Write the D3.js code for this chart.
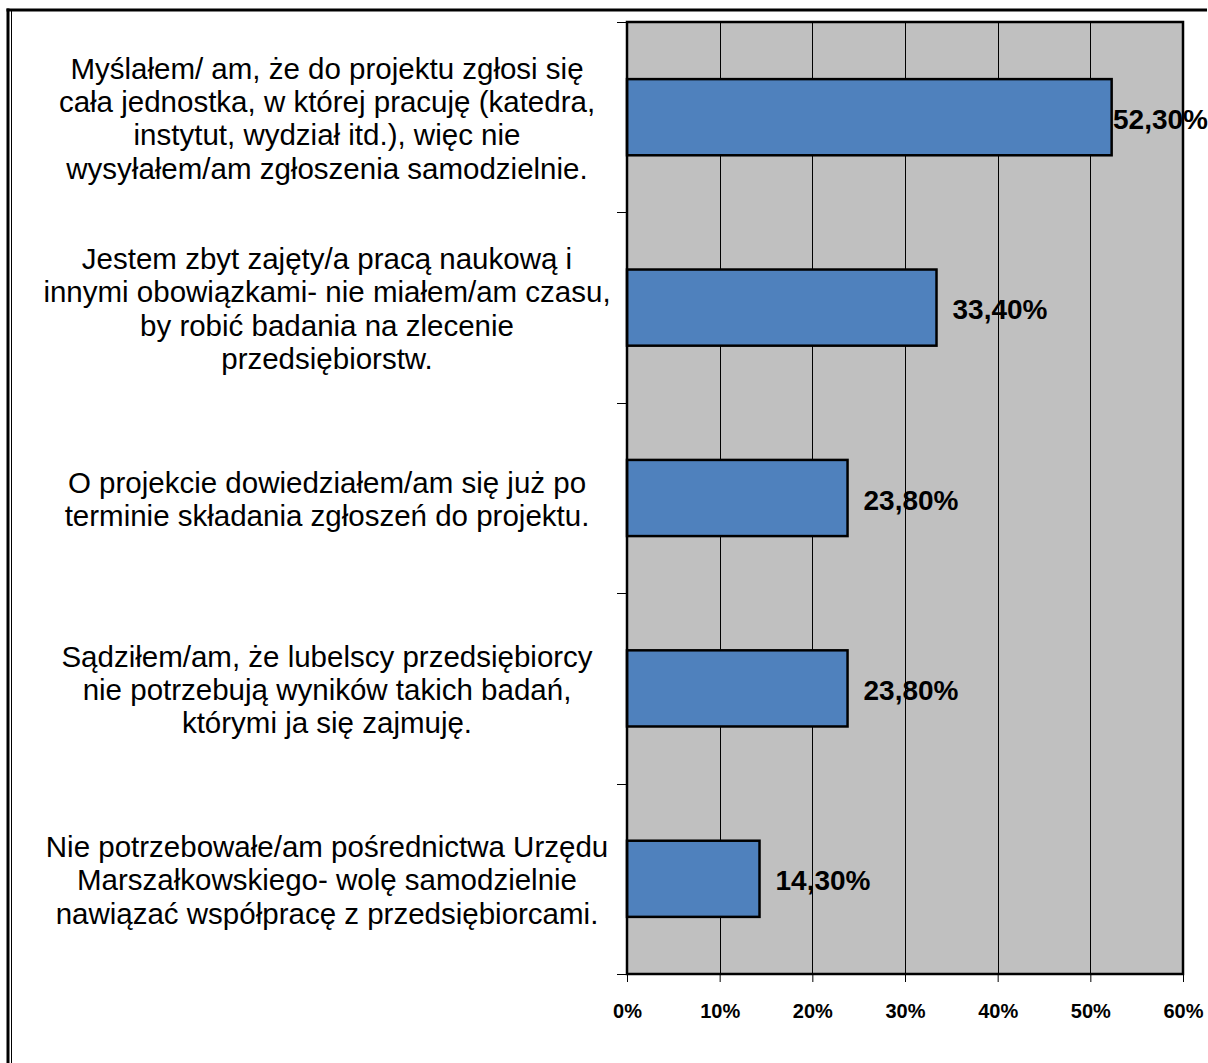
<!DOCTYPE html>
<html><head><meta charset="utf-8">
<script src="https://cdn.jsdelivr.net/npm/d3@7"></script>
<style>html,body{margin:0;padding:0;background:#fff;}svg{display:block;}</style>
</head><body>
<script>
const categories = [
  ["Myślałem/ am, że do projektu zgłosi się","cała jednostka, w której pracuję (katedra,","instytut, wydział itd.), więc nie","wysyłałem/am zgłoszenia samodzielnie."],
  ["Jestem zbyt zajęty/a pracą naukową i","innymi obowiązkami- nie miałem/am czasu,","by robić badania na zlecenie","przedsiębiorstw."],
  ["O projekcie dowiedziałem/am się już po","terminie składania zgłoszeń do projektu."],
  ["Sądziłem/am, że lubelscy przedsiębiorcy","nie potrzebują wyników takich badań,","którymi ja się zajmuję."],
  ["Nie potrzebowałe/am pośrednictwa Urzędu","Marszałkowskiego- wolę samodzielnie","nawiązać współpracę z przedsiębiorcami."]
];
const values = [52.3, 33.4, 23.8, 23.8, 14.3];
const valueLabels = ["52,30%","33,40%","23,80%","23,80%","14,30%"];
const xTicks = [0,10,20,30,40,50,60];
const xTickLabels = ["0%","10%","20%","30%","40%","50%","60%"];

const W = 1208, H = 1063;
const L = 627, R = 1183, T = 22, B = 974;
const svg = d3.select("body").append("svg").attr("width", W).attr("height", H);
const font = "'Liberation Sans', Arial, sans-serif";

// outer frame
svg.append("line").attr("x1",8).attr("x2",8).attr("y1",8.5).attr("y2",H).attr("stroke","#000").attr("stroke-width",3);
svg.append("line").attr("x1",11.5).attr("x2",11.5).attr("y1",10).attr("y2",H).attr("stroke","#000").attr("stroke-width",1);
svg.append("line").attr("x1",6.5).attr("x2",1207).attr("y1",10).attr("y2",10).attr("stroke","#000").attr("stroke-width",3);

const x = d3.scaleLinear().domain([0,60]).range([L,R]);
const idx = categories.map((d,i)=>i);
const y = d3.scaleBand().domain(idx).range([T,B]).paddingInner(0.6).paddingOuter(0.3);
const yb = d3.scaleBand().domain(idx).range([T,B]);

// plot background
svg.append("rect").attr("x",L).attr("y",T).attr("width",R-L).attr("height",B-T).attr("fill","#c0c0c0");

// gridlines
svg.append("g").selectAll("line").data(xTicks.slice(1,-1)).join("line")
  .attr("x1",d=>Math.round(x(d))+0.5).attr("x2",d=>Math.round(x(d))+0.5)
  .attr("y1",T).attr("y2",B).attr("stroke","#000").attr("stroke-width",1);

// bars
svg.append("g").selectAll("rect").data(values).join("rect")
  .attr("x",x(0)).attr("y",(d,i)=>y(i))
  .attr("width",d=>x(d)-x(0)).attr("height",y.bandwidth())
  .attr("fill","#4f81bd").attr("stroke","#000").attr("stroke-width",2.5);

// plot border
svg.append("rect").attr("x",L).attr("y",T).attr("width",R-L).attr("height",B-T)
  .attr("fill","none").attr("stroke","#000").attr("stroke-width",2.5);

// y-axis ticks at band boundaries
const yBounds = idx.map(i=>yb(i)).concat([B]);
svg.append("g").selectAll("line").data(yBounds).join("line")
  .attr("x1",617).attr("x2",L).attr("y1",d=>Math.round(d)+0.5).attr("y2",d=>Math.round(d)+0.5)
  .attr("stroke","#000").attr("stroke-width",1);

// x axis via d3.axisBottom
const xAxis = d3.axisBottom(x).tickValues(xTicks).tickFormat((d,i)=>xTickLabels[i]).tickSize(8).tickPadding(22);
const gx = svg.append("g").attr("transform",`translate(0,${B})`).call(xAxis);
gx.select(".domain").remove();
gx.selectAll(".tick line").attr("stroke","#000").attr("stroke-width",1);
gx.selectAll(".tick text").attr("font-family",font).attr("font-weight","bold").attr("font-size","20px").attr("fill","#000");

// category labels
const lineH = 33.3;
const cg = svg.append("g");
categories.forEach((lines,i)=>{
  const cy = yb(i) + yb.bandwidth()/2 + 1;
  const t = cg.append("text").attr("text-anchor","middle").attr("font-family",font)
    .attr("font-size","29.5px").attr("fill","#000");
  lines.forEach((ln,j)=>{
    t.append("tspan").attr("x",327).attr("y",cy + (j-(lines.length-1)/2)*lineH)
      .attr("dominant-baseline","central").text(ln);
  });
});

// value labels
svg.append("g").selectAll("text").data(values).join("text")
  .attr("x",d=>Math.min(x(d)+16, W-95))
  .attr("y",(d,i)=>yb(i)+yb.bandwidth()/2+2)
  .attr("dominant-baseline","central")
  .attr("font-family",font).attr("font-weight","bold").attr("font-size","28px").attr("fill","#000")
  .text((d,i)=>valueLabels[i]);
</script>
</body></html>
